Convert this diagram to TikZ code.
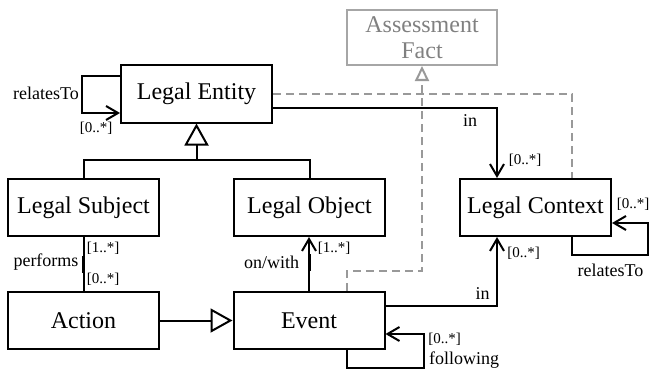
\documentclass[tikz,border=0pt]{standalone}
\usepackage{fontspec}
\setmainfont{Liberation Serif}
\usetikzlibrary{arrows.meta}
\begin{document}
\begin{tikzpicture}[x=0.5pt,y=-0.5pt,line width=1pt,
  box/.style={draw,minimum width=75.5pt,minimum height=28.5pt,inner sep=0pt,font=\fontsize{12}{14}\selectfont},
  gbox/.style={box,draw=black!35,text=black!50,align=center,font=\fontsize{12}{13}\selectfont},
  lbl/.style={inner sep=0pt,font=\fontsize{9}{10}\selectfont},
  mul/.style={inner sep=0pt,font=\fontsize{7.5}{8}\selectfont},
  assoc/.style={-{Straight Barb[length=6pt,width=7pt]}},
  gen/.style={-{Triangle[open,length=11pt,width=12pt]}},
  gdash/.style={draw=black!40,dash pattern=on 4pt off 2.5pt}]
\useasboundingbox (0,0) rectangle (651,374);
\node[box] (LE) at (196.5,94) {Legal Entity};
\node[gbox,minimum width=75pt,minimum height=27.5pt] (AF) at (422,37.5) {Assessment\\Fact};
\node[box] (LS) at (83.5,207.5) {Legal Subject};
\node[box] (LO) at (309.5,207.5) {Legal Object};
\node[box] (LC) at (535.5,207.5) {Legal Context};
\node[box] (AC) at (83.5,320.5) {Action};
\node[box] (EV) at (309,320.5) {Event};
% Legal Entity self loop
\draw[assoc] ([yshift=9pt]LE.west) -- ++(-38,0) -- ++(0,37) -- ([yshift=-9.5pt]LE.west);
\node[lbl] (l1) at (46,93) {relatesTo};
\node[mul] (m1) at (96,128) {[0..*]};
% generalization
\draw (LS.north) -- ++(0,-18) coordinate (g1) -| (LO.north);
\draw[gen] (LE.south |- g1) -- (LE.south);
% in (LE -> LC)
\draw[assoc] ([yshift=-7pt]LE.east) -| ([xshift=-19.25pt]LC.north);
\node[lbl] (l2) at (470,121) {in};
\node[mul] (m2) at (525,160) {[0..*]};
% dashed LE -> LC
\draw[gdash] (LE.east) -| ([xshift=18.25pt]LC.north);
% LC self loop
\draw[assoc] ([xshift=18.25pt]LC.south) -- ++(0,18) -| ([xshift=18pt,yshift=-7.75pt]LC.east) -- ([yshift=-7.75pt]LC.east);
\node[mul] (m3) at (633,204) {[0..*]};
\node[lbl] (l3) at (610.5,270) {relatesTo};
% performs
\draw (LS.south) -- (AC.north);
\draw[line width=1.5pt] ([yshift=-9.5pt]LS.south) -- ([yshift=-18pt]LS.south);
\node[mul] (m4) at (103,248) {[1..*]};
\node[lbl] (l4) at (46,262) {performs};
\node[mul] (m5) at (103,279) {[0..*]};
% on/with
\draw[assoc] (EV.north) -- (EV.north |- LO.south);
\draw[line width=1.5pt] ([yshift=18.5pt]EV.north) -- ([yshift=10pt]EV.north);
\node[lbl] (l5) at (271.5,262) {on/with};
\node[mul] (m6) at (334,248) {[1..*]};
% Action -> Event
\draw[gen] (AC.east) -- (EV.west);
% Event -> LC
\draw[assoc] ([yshift=7.25pt]EV.east) -| ([xshift=-19.25pt]LC.south);
\node[lbl] (l6) at (482.5,294) {in};
\node[mul] (m7) at (523.5,253) {[0..*]};
% Event self loop
\draw[assoc] ([xshift=19pt]EV.south) -- ++(0,18) -| ([xshift=19pt,yshift=-6.75pt]EV.east) -- ([yshift=-6.75pt]EV.east);
\node[mul] (m8) at (444.5,339) {[0..*]};
\node[lbl] (l7) at (464,360) {following};
% Assessment Fact dashed
\draw[gdash,-{Triangle[open,length=7.5pt,width=7pt]}] ([xshift=19pt]EV.north) -- ++(0,-20) -| (AF.south);
\end{tikzpicture}
\end{document}
